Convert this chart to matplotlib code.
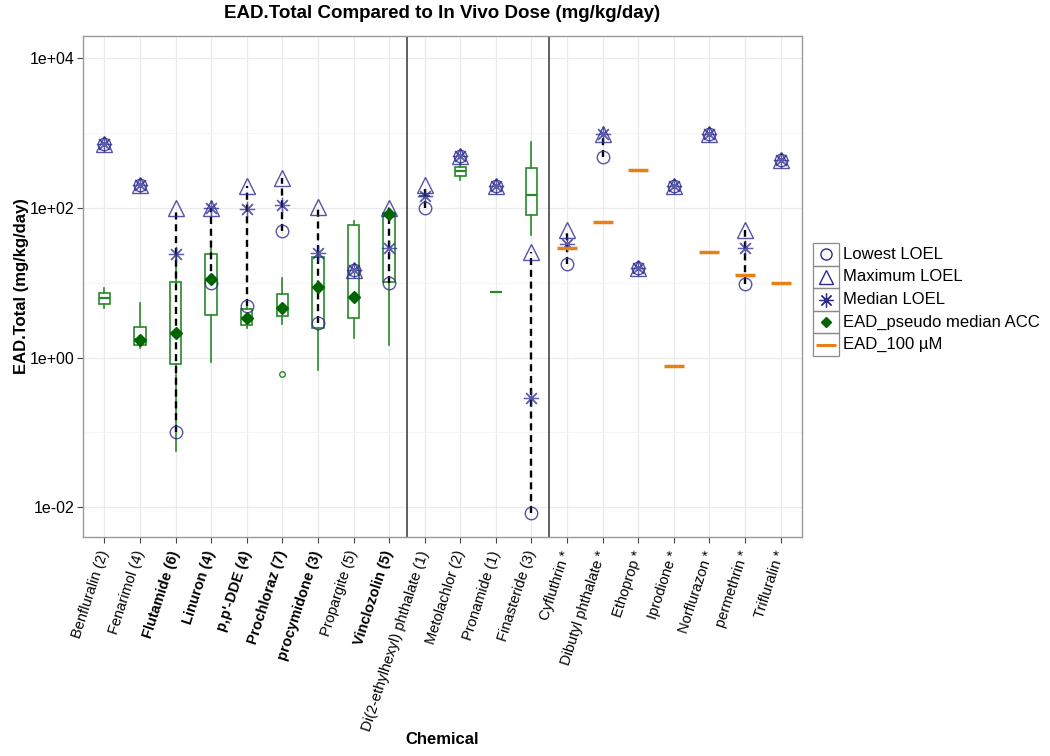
"""EAD.Total vs in vivo dose (mg/kg/day): boxes of EAD, LOEL points, EAD at 100 uM."""
import numpy as np
import matplotlib
matplotlib.use('Agg')
import matplotlib.pyplot as plt
from matplotlib.ticker import FixedLocator, FuncFormatter, NullFormatter
from matplotlib.patches import Rectangle

plt.rcParams['font.family'] = ['Liberation Sans', 'DejaVu Sans']

nan = np.nan

# ── data ──
chemicals = [
    'Benfluralin (2)', 'Fenarimol (4)', 'Flutamide (6)', 'Linuron (4)',
    "p,p'-DDE (4)", 'Prochloraz (7)', 'procymidone (3)', 'Propargite (5)',
    'Vinclozolin (5)', 'Di(2-ethylhexyl) phthalate (1)', 'Metolachlor (2)',
    'Pronamide (1)', 'Finasteride (3)', 'Cyfluthrin *', 'Dibutyl phthalate *',
    'Ethoprop *', 'Iprodione *', 'Norflurazon *', 'permethrin *', 'Trifluralin *',
]
bold = [False, False, True, True, True, True, True, False, True,
        False, False, False, False, False, False, False, False, False, False, False]

lowest_loel = [720, 200, 0.1, 10, 4.9, 49, 2.9, 15, 10, 100, 490, 196, 0.0083,
               18, 480, 15.8, 196, 970, 9.7, 437]
max_loel = [720, 200, 100, 100, 196, 251, 103, 15, 100, 203, 490, 196, 26,
            51, 970, 15.8, 196, 970, 51, 437]
median_loel = [720, 200, 24.4, 100, 97, 110, 25, 15, 29, 145, 490, 196, 0.29,
               33, 970, 15.8, 196, 970, 29, 437]

# EAD.Total box statistics (first 13 chemicals)
whis_lo = [4.6, 1.36, 0.057, 0.86, 2.5, 2.8, 0.69, 1.8, 1.45, 145, 237, 7.6, 44]
box_q1 = [5.2, 1.49, 0.83, 3.7, 2.76, 3.6, 2.5, 3.4, 10.3, 145, 267, 7.6, 81]
box_med = [6.3, 1.75, 2.1, 11.3, 3.4, 4.6, 8.9, 6.5, 83, 145, 310, 7.6, 149]
box_q3 = [7.4, 2.6, 10.3, 24.4, 4.4, 7.1, 22, 59, 86, 145, 354, 7.6, 340]
whis_hi = [8.6, 5.4, 24, 34, 4.9, 11.7, 25, 67, 100, 145, 390, 7.6, 760]
outliers = [[], [], [], [], [], [0.61], [], [], [], [], [], [], []]

pseudo_median = [nan, 1.74, 2.1, 11.3, 3.4, 4.6, 8.9, 6.5, 83, nan, nan, nan, nan,
                 nan, nan, nan, nan, nan, nan, nan]
ead_100uM = [nan] * 13 + [29, 65, 323, 0.76, 26, 12.8, 10]

GREEN = '#2A882A'
DKGREEN = '#006400'
NAVY = '#2B2B8E'
ORANGE = '#E8801A'


def main():
    x = np.arange(1, len(chemicals) + 1)

    fig = plt.figure(figsize=(10.5, 7.56), dpi=100)
    ax = fig.add_axes([83 / 1050, 1 - 537 / 756, 719 / 1050, 501 / 756])

    ax.set_yscale('log')
    ax.set_xlim(0.4, 20.6)
    ax.set_ylim(10 ** -2.4, 10 ** 4.3)

    # grid (ggplot theme_bw look)
    ax.yaxis.set_major_locator(FixedLocator([1e-2, 1, 1e2, 1e4]))
    ax.yaxis.set_minor_locator(FixedLocator([1e-1, 1e1, 1e3]))
    ax.yaxis.set_major_formatter(FuncFormatter(lambda v, p: f'{v:.0e}'))
    ax.yaxis.set_minor_formatter(NullFormatter())
    ax.grid(which='major', color='#EBEBEB', lw=0.9, zorder=0)
    ax.grid(which='minor', axis='y', color='#F4F4F4', lw=0.7, zorder=0)
    ax.set_axisbelow(True)
    for s in ax.spines.values():
        s.set_color('#9A9A9A')
        s.set_linewidth(1.0)
    ax.tick_params(which='major', length=4, width=0.8, color='#444444',
                   labelcolor='black')
    ax.tick_params(axis='y', labelsize=11.5, pad=2)
    ax.tick_params(which='minor', length=0)

    # group separators
    ax.axvline(9.5, color='#444444', lw=1.2, zorder=1)
    ax.axvline(13.5, color='#444444', lw=1.2, zorder=1)

    # EAD.Total boxes
    stats = []
    for i in range(len(box_q1)):
        stats.append(dict(whislo=whis_lo[i], q1=box_q1[i], med=box_med[i],
                          q3=box_q3[i], whishi=whis_hi[i], fliers=outliers[i]))
    ax.bxp(stats, positions=x[:len(stats)], widths=0.32, showcaps=False,
           patch_artist=True, manage_ticks=False,
           boxprops=dict(facecolor='white', edgecolor=GREEN, lw=1.2),
           whiskerprops=dict(color=GREEN, lw=1.2),
           medianprops=dict(color=GREEN, lw=1.6),
           flierprops=dict(marker='o', ms=4, mfc='none', mec=GREEN, mew=1),
           zorder=2)

    # dashed range lowest→maximum LOEL
    lo = np.array(lowest_loel, float)
    hi = np.array(max_loel, float)
    m = hi > lo
    ax.vlines(x[m], lo[m], hi[m], colors='black', linestyles=(0, (3, 2)),
              lw=1.7, zorder=3)

    # LOEL points
    ax.plot(x, lowest_loel, 'o', ms=9, mfc='none', mec=NAVY, mew=1.0,
            alpha=0.8, zorder=4)
    ax.plot(x, max_loel, '^', ms=11, mfc='none', mec=NAVY, mew=1.0,
            alpha=0.8, zorder=4)
    ax.plot(x, median_loel, marker=(8, 2, 0), ls='none', ms=11, mec=NAVY,
            mew=0.9, alpha=0.75, zorder=4)

    # pseudo median ACC and 100 uM EAD
    ax.plot(x, pseudo_median, 'D', ms=6.5, color=DKGREEN, zorder=5)
    ax.plot(x, ead_100uM, '_', ms=15, mew=2.5, color=ORANGE, zorder=5)

    # x tick labels
    ax.set_xticks(x)
    ax.set_xticklabels(chemicals, rotation=72, ha='right', va='center',
                       rotation_mode='anchor', fontsize=10.5)
    for lab, b in zip(ax.get_xticklabels(), bold):
        if b:
            lab.set_fontweight('bold')
    ax.tick_params(axis='x', pad=6)

    fig.text(442 / 1050, 1 - 14 / 756,
             'EAD.Total Compared to In Vivo Dose (mg/kg/day)',
             ha='center', va='center', fontsize=13.5, fontweight='bold')
    ax.set_ylabel('EAD.Total (mg/kg/day)', fontsize=12, fontweight='bold')
    ax.yaxis.set_label_coords(-0.075, 0.5)
    fig.text(442 / 1050, 1 - 740 / 756, 'Chemical', ha='center', va='center',
             fontsize=12, fontweight='bold')

    # legend drawn by hand to get ggplot-style boxed keys
    lg = fig.add_axes([812 / 1050, 1 - 356 / 756, 236 / 1050, 113 / 756])
    lg.set_xlim(0, 236)
    lg.set_ylim(113, 0)
    lg.axis('off')
    rows = [
        ('Lowest LOEL', dict(marker='o', ms=8, mfc='none', mec=NAVY, mew=1.0)),
        ('Maximum LOEL', dict(marker='^', ms=10, mfc='none', mec=NAVY, mew=1.0)),
        ('Median LOEL', dict(marker=(8, 2, 0), ms=10, mec=NAVY, mew=0.9)),
        ('EAD_pseudo median ACC', dict(marker='D', ms=5.5, color=DKGREEN)),
        ('EAD_100 \u00b5M', dict(marker='_', ms=14, mew=2.2, color=ORANGE)),
    ]
    rh = 113 / len(rows)
    for k, (txt, style) in enumerate(rows):
        y0 = k * rh
        lg.add_patch(Rectangle((0.5, y0), 26, rh, fill=False, ec='#8A8A8A',
                               lw=0.9, clip_on=False))
        lg.plot([13.5], [y0 + rh / 2], ls='none', clip_on=False, **style)
        lg.text(31, y0 + rh / 2, txt, fontsize=12, va='center', ha='left')

    fig.savefig('out.png', dpi=100)
    plt.close(fig)


if __name__ == '__main__':
    main()
